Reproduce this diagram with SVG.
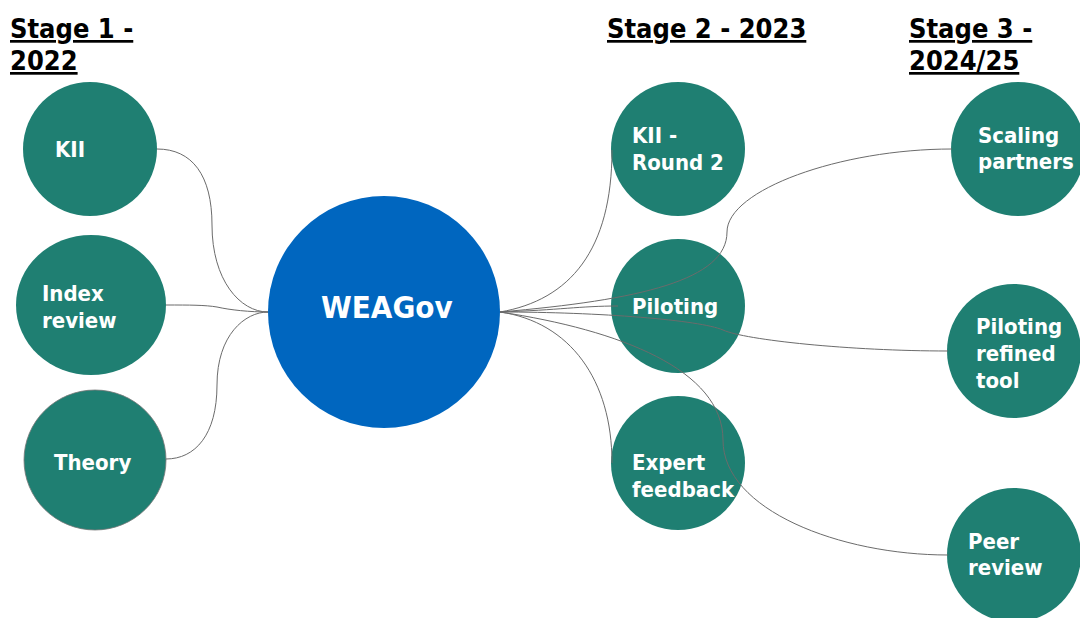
<svg xmlns="http://www.w3.org/2000/svg" width="1080" height="618" viewBox="0 0 1080 618">
<style>
.n{fill:#1F7F72}
.c{fill:#0066BF}
.t{font-family:"DejaVu Sans Condensed","DejaVu Sans",sans-serif;font-weight:bold;font-size:22px;fill:#fff}
.h{font-family:"DejaVu Sans Condensed","DejaVu Sans",sans-serif;font-weight:bold;font-size:27px;fill:#000;text-decoration:underline}
.l{fill:none;stroke:#6b6b6b;stroke-width:1}
</style>
<rect width="1080" height="618" fill="#fff"/>
<g id="headers">
<text class="h" x="10" y="38">Stage 1 -</text>
<text class="h" x="10" y="70">2022</text>
<text class="h" x="607" y="38">Stage 2 - 2023</text>
<text class="h" x="909" y="38">Stage 3 -</text>
<text class="h" x="909" y="70">2024/25</text>
</g>
<g id="kii"><circle class="n" cx="90" cy="149" r="67"/><text class="t" x="55" y="157">KII</text></g>
<g id="index-review"><ellipse class="n" cx="91" cy="305" rx="75" ry="70"/><text class="t" x="42" y="301">Index</text><text class="t" x="42" y="328">review</text></g>
<g id="theory"><ellipse class="n" cx="95" cy="460" rx="71" ry="70" stroke="#777" stroke-width="0.8"/><text class="t" x="54" y="470">Theory</text></g>
<g id="weagov"><circle class="c" cx="384" cy="312" r="116"/><text class="t" x="321" y="318" style="font-size:31px">WEAGov</text></g>
<g id="kii-round2"><circle class="n" cx="678" cy="149" r="67"/><text class="t" x="632" y="143">KII -</text><text class="t" x="632" y="170">Round 2</text></g>
<g id="piloting"><circle class="n" cx="678" cy="306" r="67"/><text class="t" x="632" y="314">Piloting</text></g>
<g id="expert-feedback"><circle class="n" cx="678" cy="463" r="67"/><text class="t" x="632" y="470">Expert</text><text class="t" x="632" y="497">feedback</text></g>
<g id="scaling-partners"><circle class="n" cx="1018" cy="149" r="67"/><text class="t" x="978" y="143">Scaling</text><text class="t" x="978" y="169">partners</text></g>
<g id="piloting-refined"><circle class="n" cx="1014" cy="351" r="67"/><text class="t" x="976" y="334">Piloting</text><text class="t" x="976" y="361">refined</text><text class="t" x="976" y="388">tool</text></g>
<g id="peer-review"><circle class="n" cx="1014" cy="555" r="67"/><text class="t" x="968" y="549">Peer</text><text class="t" x="968" y="575">review</text></g>
<g id="connectors">
<path class="l" d="M157,149 C192,149 212,175 212,225 C212,280 240,312 268,312"/>
<path class="l" d="M166,305 C190,305 205,305 217,307 C230,310 250,312 268,312"/>
<path class="l" d="M166,459 C195,459 217,435 217,385 C217,335 245,312 268,312"/>
<path class="l" d="M500,312 C570,300 612,250 612,150"/>
<path class="l" d="M500,312 C570,322 612,380 612,463"/>
<path class="l" d="M500,312 C560,310 580,306 618,306"/>
<path class="l" d="M500,312 C640,300 727,280 727,232 C727,190 840,149 952,149"/>
<path class="l" d="M500,312 C600,312 700,320 723,330 C745,340 850,351 948,351"/>
<path class="l" d="M500,312 C620,330 723,370 723,440 C723,510 840,555 948,555"/>
</g>
</svg>
